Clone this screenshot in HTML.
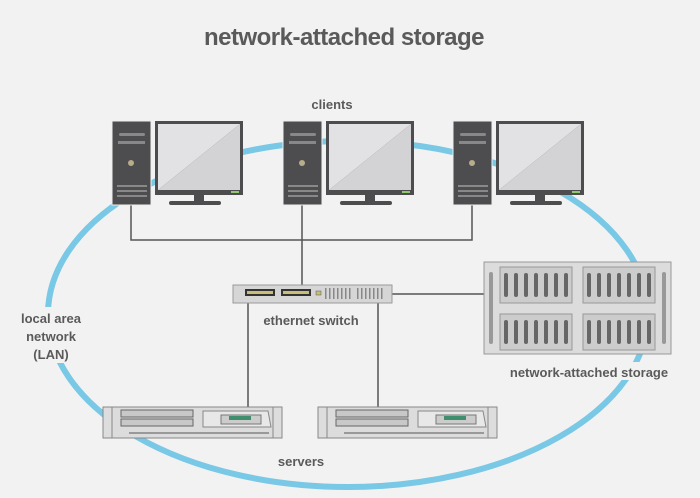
<!DOCTYPE html><html><head><style>body{margin:0;background:#f2f2f2}svg{display:block}text{font-family:"Liberation Sans",sans-serif;fill:#5a5a5a;font-weight:bold}</style></head><body>
<svg width="700" height="498" viewBox="0 0 700 498">
<rect width="700" height="498" fill="#f2f2f2"/>
<ellipse cx="348" cy="314" rx="300" ry="173" fill="none" stroke="#78c8e6" stroke-width="6"/>
<text x="344" y="45" font-size="24" text-anchor="middle" letter-spacing="-0.5">network-attached storage</text>
<text x="332" y="109" font-size="13" text-anchor="middle">clients</text>
<g stroke="#555" stroke-width="1.5" fill="none">
<path d="M131 205V240H472V205M302 205V286M392 294H484M248 303V407M378 303V407"/>
</g>
<defs>
<g id="pc">
<rect x="0" y="0" width="39" height="84" fill="#4d4d4f" stroke="#eee" stroke-width="1"/>
<rect x="7" y="12" width="26" height="3" rx="1.5" fill="#888"/>
<rect x="6" y="20" width="27" height="3" fill="#888"/>
<circle cx="19" cy="42" r="3" fill="#b8ad8a"/>
<rect x="5" y="64" width="30" height="2" fill="#888"/><rect x="5" y="69" width="30" height="2" fill="#888"/><rect x="5" y="74" width="30" height="2" fill="#888"/>
<rect x="43" y="0" width="88" height="74" fill="#4d4d4f"/>
<polygon points="46,3 128,3 46,69" fill="#e2e2e4"/><polygon points="128,3 128,69 46,69" fill="#d3d3d5"/>
<rect x="119" y="70" width="8" height="2" fill="#8fc86f"/>
<rect x="82" y="74" width="10" height="6" fill="#4d4d4f"/>
<rect x="57" y="80" width="52" height="4" rx="2" fill="#4d4d4f"/>
</g>
<g id="srv">
<rect x="0" y="0" width="179" height="31" fill="#dcdcdc" stroke="#888"/>
<rect x="0" y="0" width="9" height="31" fill="#ddd" stroke="#888"/><rect x="170" y="0" width="9" height="31" fill="#ddd" stroke="#888"/>
<rect x="18" y="3" width="72" height="7" fill="#c8c8c8" stroke="#666"/><rect x="18" y="12" width="72" height="7" fill="#c8c8c8" stroke="#666"/>
<path d="M100 4H165L168 20H100Z" fill="#e8e8e8" stroke="#888"/>
<rect x="118" y="8" width="40" height="9" fill="#ccc" stroke="#777"/>
<rect x="126" y="9" width="22" height="4" fill="#3f8e6e"/>
<rect x="26" y="25" width="140" height="2" fill="#999"/>
</g>
</defs>
<use href="#pc" x="112" y="121"/><use href="#pc" x="283" y="121"/><use href="#pc" x="453" y="121"/>
<rect x="233" y="285" width="159" height="18" fill="#d6d6d6" stroke="#999"/>
<rect x="245" y="289" width="30" height="7" fill="#333"/><rect x="247" y="291" width="26" height="3" fill="#c7be78"/>
<rect x="281" y="289" width="30" height="7" fill="#333"/><rect x="283" y="291" width="26" height="3" fill="#c7be78"/>
<rect x="316" y="291" width="5" height="4" fill="#c7be78" stroke="#555" stroke-width=".5"/>
<g fill="#888"><rect x="325" y="288" width="1.5" height="11"/><rect x="329" y="288" width="1.5" height="11"/><rect x="333" y="288" width="1.5" height="11"/><rect x="337" y="288" width="1.5" height="11"/><rect x="341" y="288" width="1.5" height="11"/><rect x="345" y="288" width="1.5" height="11"/><rect x="349" y="288" width="1.5" height="11"/><rect x="357" y="288" width="1.5" height="11"/><rect x="361" y="288" width="1.5" height="11"/><rect x="365" y="288" width="1.5" height="11"/><rect x="369" y="288" width="1.5" height="11"/><rect x="373" y="288" width="1.5" height="11"/><rect x="377" y="288" width="1.5" height="11"/><rect x="381" y="288" width="1.5" height="11"/></g>
<text x="311" y="325" font-size="13" text-anchor="middle">ethernet switch</text>
<rect x="484" y="262" width="187" height="92" fill="#dcdcdc" stroke="#999"/>
<rect x="489" y="272" width="4" height="72" rx="2" fill="#999"/><rect x="662" y="272" width="4" height="72" rx="2" fill="#999"/>
<g id="bay"><rect x="500" y="267" width="72" height="36" fill="#ccc" stroke="#999"/>
<g fill="#666"><rect x="504" y="273" width="4" height="24" rx="2"/><rect x="514" y="273" width="4" height="24" rx="2"/><rect x="524" y="273" width="4" height="24" rx="2"/><rect x="534" y="273" width="4" height="24" rx="2"/><rect x="544" y="273" width="4" height="24" rx="2"/><rect x="554" y="273" width="4" height="24" rx="2"/><rect x="564" y="273" width="4" height="24" rx="2"/></g></g>
<use href="#bay" x="83"/><use href="#bay" y="47"/><use href="#bay" x="83" y="47"/>
<rect x="500" y="362" width="180" height="18" fill="#f2f2f2"/>
<text x="589" y="377" font-size="13" text-anchor="middle">network-attached storage</text>
<use href="#srv" x="103" y="407"/><use href="#srv" x="318" y="407"/>
<rect x="15" y="307" width="72" height="56" fill="#f2f2f2"/>
<text font-size="13" text-anchor="middle"><tspan x="51" y="323">local area</tspan><tspan x="51" y="341">network</tspan><tspan x="51" y="359">(LAN)</tspan></text>
<text x="301" y="466" font-size="13" text-anchor="middle">servers</text>
</svg></body></html>
